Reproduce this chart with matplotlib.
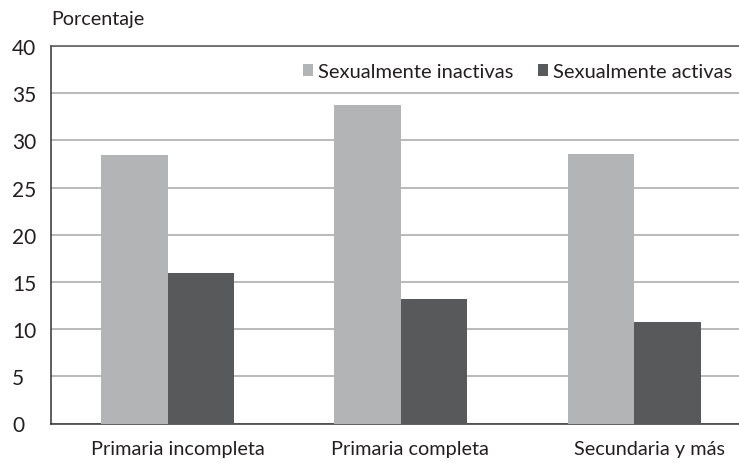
import matplotlib
matplotlib.use("Agg")
import matplotlib.pyplot as plt
import matplotlib.transforms as mtransforms
import numpy as np

categories = ["Primaria incompleta", "Primaria completa", "Secundaria y más"]
inactivas = [28.5, 33.8, 28.6]
activas = [15.9, 13.2, 10.8]
series_labels = ["Sexualmente inactivas", "Sexualmente activas"]
y_ticks = [0, 5, 10, 15, 20, 25, 30, 35, 40]

plt.rcParams["font.family"] = ["Lato", "DejaVu Sans"]

W, H = 739, 464
fig = plt.figure(figsize=(W / 100, H / 100), dpi=100)
ax = fig.add_axes([51 / W, (H - 424.5) / H, (W - 51) / W, 377.5 / H])

x = np.arange(len(categories))
bw = 0.285
c_in, c_act = "#b3b4b6", "#58595b"
ax.bar(x - bw / 2, inactivas, bw, color=c_in, label=series_labels[0], zorder=3)
ax.bar(x + bw / 2, activas, bw, color=c_act, label=series_labels[1], zorder=3)

ax.set_xlim(-0.5, 2.45)
ax.set_ylim(0, 40)
ax.set_yticks(y_ticks)
ax.set_xticks(x)
ax.set_xticklabels(categories, fontsize=14.3, color="#231f20")
ax.tick_params(axis="y", length=0, pad=28, labelsize=15, labelcolor="#231f20")
for lbl in ax.get_yticklabels():
    lbl.set_horizontalalignment("left")
ax.tick_params(axis="x", length=0, pad=12)

# category labels sit a little to the right of their bar pairs
for lbl, dx in zip(ax.get_xticklabels(), [10.5, 9.5, 15]):
    lbl.set_transform(lbl.get_transform() +
                      mtransforms.ScaledTranslation(dx / 100, 0, fig.dpi_scale_trans))

ax.grid(axis="y", color="#a7a7a7", linewidth=1.1, zorder=0)
ax.spines["right"].set_visible(False)
ax.spines["top"].set_color("#555555")
ax.spines["left"].set_color("#333333")
ax.spines["bottom"].set_color("#333333")
for s in ["top", "left", "bottom"]:
    ax.spines[s].set_linewidth(1.1)

fig.text(51 / W, 1 - 20 / H, "Porcentaje", fontsize=14.2, color="#231f20",
         ha="left", va="center")

ax.legend(loc="upper right", bbox_to_anchor=(1.0, 1 - 10 / 377.5), ncol=2,
          frameon=False, fontsize=14.5, handlelength=0.5, handleheight=0.5,
          handletextpad=0.25, columnspacing=1.2, borderpad=0.1,
          borderaxespad=0.25, labelcolor="#231f20")

fig.savefig("out.png", dpi=100)
